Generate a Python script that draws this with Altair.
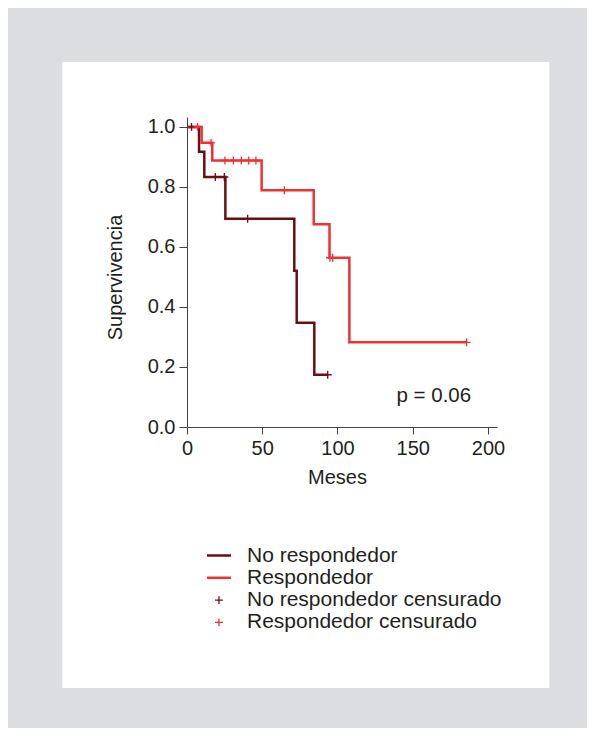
import altair as alt
import pandas as pd

# Kaplan-Meier step data (months, survival)
nr_t = [0, 8, 11.5, 25.5, 71.3, 72.9, 84.6, 93.5]
nr_s = [1.0, 0.917, 0.833, 0.694, 0.521, 0.347, 0.174, 0.174]
r_t = [0, 9.7, 16.8, 49.6, 84.2, 94.7, 107.9, 185.8]
r_s = [1.0, 0.947, 0.888, 0.789, 0.676, 0.564, 0.282, 0.282]

# censored observations
nr_ct = [3, 18.8, 24.8, 40.3, 93.5]
nr_cs = [1.0, 0.833, 0.833, 0.694, 0.174]
r_ct = [7, 16, 25.2, 30.8, 36.1, 41, 45.8, 64.7, 95, 96.8, 185.8]
r_cs = [1.0, 0.947, 0.888, 0.888, 0.888, 0.888, 0.888, 0.789, 0.564, 0.564, 0.282]

series = ["No respondedor", "Respondedor", "No respondedor censurado", "Respondedor censurado"]
DARK = "#6b0e14"
RED = "#ef3131"
FONT = "Liberation Sans"
TXT = "#231f20"
FS_AX = 20
FS_TX = 20.5
FS_LEG = 21

lines = pd.DataFrame(
    [{"t": t, "s": s, "serie": series[0], "o": i} for i, (t, s) in enumerate(zip(nr_t, nr_s))]
    + [{"t": t, "s": s, "serie": series[1], "o": i} for i, (t, s) in enumerate(zip(r_t, r_s))]
)
cens = pd.DataFrame(
    [{"t": t, "s": s, "serie": series[2]} for t, s in zip(nr_ct, nr_cs)]
    + [{"t": t, "s": s, "serie": series[3]} for t, s in zip(r_ct, r_cs)]
)
ptxt = pd.DataFrame({"t": [164], "s": [0.083], "label": ["p = 0.06"]})

xs = alt.Scale(domain=[0, 206], nice=False, zero=False)
ys = alt.Scale(domain=[0, 1.033], nice=False, zero=False)

xaxis = alt.Axis(values=[0, 50, 100, 150, 200], title="Meses", grid=False, zindex=1,
                 labelFlush=False,
                 tickSize=7, labelPadding=4, labelFontSize=FS_AX, titleFontSize=FS_AX,
                 titleFontWeight="normal", titleX=150, titleY=56,
                 titleBaseline="alphabetic", titleAlign="center",
                 labelFont=FONT, titleFont=FONT, labelColor=TXT,
                 titleColor=TXT, domainColor="#444", tickColor="#444")
yaxis = alt.Axis(values=[0, 0.2, 0.4, 0.6, 0.8, 1.0], format=".1f", title="Supervivencia",
                 grid=False, zindex=1, labelFlush=False, tickSize=8, labelPadding=4,
                 labelFontSize=FS_AX,
                 titleFontSize=FS_AX, titleFontWeight="normal", titleX=-66, titleY=160,
                 titleAngle=270, titleAlign="center", titleBaseline="alphabetic",
                 labelFont=FONT, titleFont=FONT, labelColor=TXT,
                 titleColor=TXT, domainColor="#444", tickColor="#444")

panel = alt.Chart(pd.DataFrame({"a": [0]})).mark_rect(color="white").encode(
    x=alt.value(-124.7), x2=alt.value(362.3), y=alt.value(-55), y2=alt.value(571)
)

line_layer = alt.Chart(lines).mark_line(interpolate="step-after", strokeWidth=2.5).encode(
    x=alt.X("t:Q", scale=xs, axis=xaxis),
    y=alt.Y("s:Q", scale=ys, axis=yaxis),
    stroke=alt.Stroke("serie:N", scale=alt.Scale(domain=series[:2], range=[DARK, RED]), legend=None),
    order="o:Q",
)

LINE_PATH = "M-1,-0.105H1V0.105H-1Z"
PLUS_PATH = "M-0.33,-0.055H0.33V0.055H-0.33ZM-0.055,-0.33H0.055V0.33H-0.055Z"

leg = dict(title=None, orient="none", legendX=20, legendY=426.5,
           symbolSize=576, labelFontSize=FS_LEG, labelFont=FONT,
           labelColor=TXT, labelOffset=16, rowPadding=0.3,
           padding=0, symbolStrokeWidth=0, labelLimit=400)

point_layer = alt.Chart(cens).mark_point(filled=True, size=576, strokeWidth=0, opacity=1).encode(
    x=alt.X("t:Q", scale=xs),
    y=alt.Y("s:Q", scale=ys),
    color=alt.Color("serie:N", scale=alt.Scale(domain=series, range=[DARK, RED, DARK, RED]),
                    legend=alt.Legend(**leg)),
    shape=alt.Shape("serie:N", scale=alt.Scale(domain=series,
                                               range=[LINE_PATH, LINE_PATH, PLUS_PATH, PLUS_PATH]),
                    legend=alt.Legend(**leg)),
)

text_layer = alt.Chart(ptxt).mark_text(fontSize=FS_TX, font=FONT, color=TXT,
                                       align="center", baseline="alphabetic").encode(
    x=alt.X("t:Q", scale=xs), y=alt.Y("s:Q", scale=ys), text="label:N"
)

chart = alt.layer(panel, line_layer, point_layer, text_layer).properties(
    width=310, height=310,
    padding={"left": 179, "top": 109, "right": 90, "bottom": 301},
    autosize=alt.AutoSizeParams(type="none"),
).configure(background="#dcdde0").configure_view(stroke=None)

chart.save("out.html", embed_options={"renderer": "svg", "actions": False})
